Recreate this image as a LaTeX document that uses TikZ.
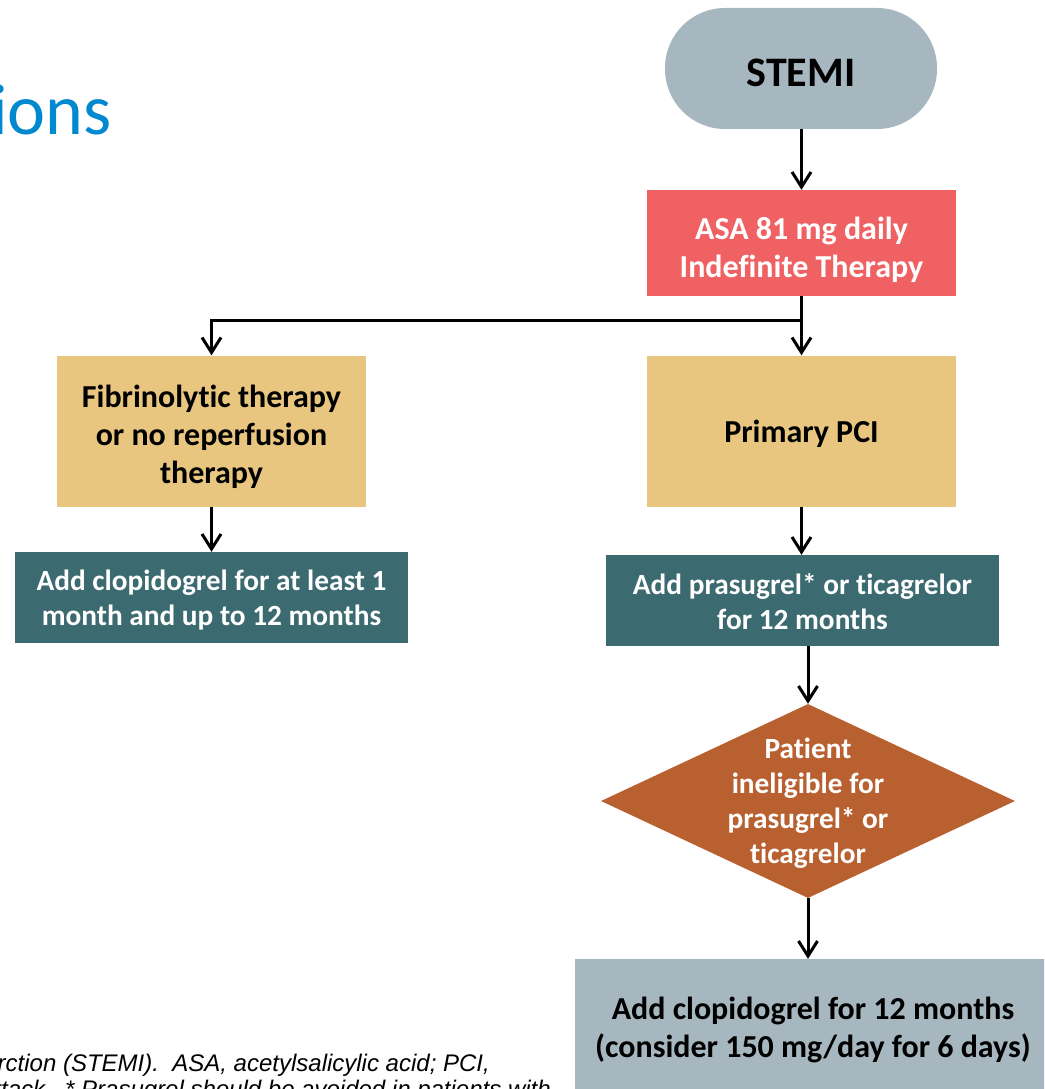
\documentclass[tikz,border=0pt]{standalone}
\usepackage{fontspec}
\setmainfont{Carlito}[Ligatures=NoCommon]
\newfontfamily\footfont{Liberation Sans}
\usetikzlibrary{arrows.meta,shapes.geometric}
\definecolor{stemigray}{RGB}{167,183,192}
\definecolor{asared}{RGB}{240,97,99}
\definecolor{boxtan}{RGB}{232,198,128}
\definecolor{boxteal}{RGB}{59,106,112}
\definecolor{diaorange}{RGB}{184,96,48}
\definecolor{titleblue}{RGB}{0,137,207}
\begin{document}
\begin{tikzpicture}[x=1pt,y=-1pt,
  box/.style={rectangle, inner sep=0pt},
  pill/.style={rectangle, rounded corners=60pt, inner sep=0pt, fill=stemigray, minimum width=272pt, minimum height=121pt},
  redbox/.style={box, fill=asared, minimum width=309pt, minimum height=106pt},
  tanbox/.style={box, fill=boxtan, minimum width=309pt, minimum height=151pt},
  tealbox/.style={box, fill=boxteal, minimum width=393pt, minimum height=91pt},
  graybox/.style={box, fill=stemigray, minimum width=474pt, minimum height=132pt},
  dia/.style={diamond, fill=diaorange, inner sep=0pt, minimum width=414pt, minimum height=194pt},
  txt/.style={align=center, inner sep=0pt},
  bigtxt/.style={txt, font=\bfseries\fontsize{32}{38}\selectfont},
  midtxt/.style={txt, font=\bfseries\fontsize{29.3}{35}\selectfont},
  foot/.style={inner sep=0pt, anchor=base east, font=\footfont\itshape\fontsize{24}{26}\selectfont},
  link/.style={line width=3pt, line join=miter},
  arr/.style={link, -{Straight Barb[length=15pt,width=19pt]}}
]
\useasboundingbox (0,0) rectangle (1044,1089);
\clip (0,0) rectangle (1044,1089);

% title fragment
\node[inner sep=0pt, anchor=base east, text=titleblue, font=\fontsize{72}{80}\selectfont] (title) at (112,135) {ions};

% shapes
\node[pill] (stemi) at (801,68.5) {};
\node[redbox] (asa) at (801.5,243) {};
\node[tanbox] (fib) at (211.5,431) {};
\node[tanbox] (pci) at (801.5,431) {};
\node[tealbox] (lclop) at (211.5,597.5) {};
\node[tealbox] (prasu) at (802.5,600.5) {};
\node[dia] (dec) at (808,801) {};
\node[graybox] (rclop) at (812,1025) {};

% texts
\node[txt, font=\bfseries\fontsize{42}{48}\selectfont] (stemitxt) at ([yshift=-4pt]stemi.center) {STEMI};
\node[bigtxt, text=white] (asatxt) at ([yshift=-7pt]asa.center) {ASA 81 mg daily\\Indefinite Therapy};
\node[bigtxt] (fibtxt) at ([yshift=-6pt]fib.center) {Fibrinolytic therapy\\or no reperfusion\\therapy};
\node[bigtxt] (pcitxt) at ([yshift=-3pt]pci.center) {Primary PCI};
\node[midtxt, text=white] (lcloptxt) at ([yshift=-3pt]lclop.center) {Add clopidogrel for at least 1\\month and up to 12 months};
\node[midtxt, text=white] (prasutxt) at ([yshift=-1pt]prasu.center) {Add prasugrel* or ticagrelor\\for 12 months};
\node[midtxt, text=white] (dectxt) at ([yshift=-2pt]dec.center) {Patient\\ineligible for\\prasugrel* or\\ticagrelor};
\node[txt, font=\bfseries\fontsize{32}{38}\selectfont] (rcloptxt) at ([xshift=1pt,yshift=-5pt]rclop.center) {Add clopidogrel for 12 months\\(consider 150 mg/day for 6 days)};

% footnote fragment
\node[foot] (foot1) at (490,1071) {rction (STEMI).\ \ ASA, acetylsalicylic acid; PCI,};
\node[foot] (foot2) at (551,1097) {ttack.\ \ * Prasugrel should be avoided in patients with};

% connectors
\coordinate (split) at (asa.south |- 0,320);
\draw[arr] (stemi.south -| asa.north) -- (asa.north);
\draw[arr] (asa.south) -- (split) -| (fib.north);
\draw[arr] (split) -- (pci.north -| split);
\draw[arr] (fib.south) -- (lclop.north -| fib.south);
\draw[arr] (pci.south) -- (prasu.north -| pci.south);
\draw[arr] (prasu.south -| dec.north) -- (dec.north);
\draw[arr] (dec.south) -- (dec.south |- rclop.north);
\end{tikzpicture}
\end{document}
